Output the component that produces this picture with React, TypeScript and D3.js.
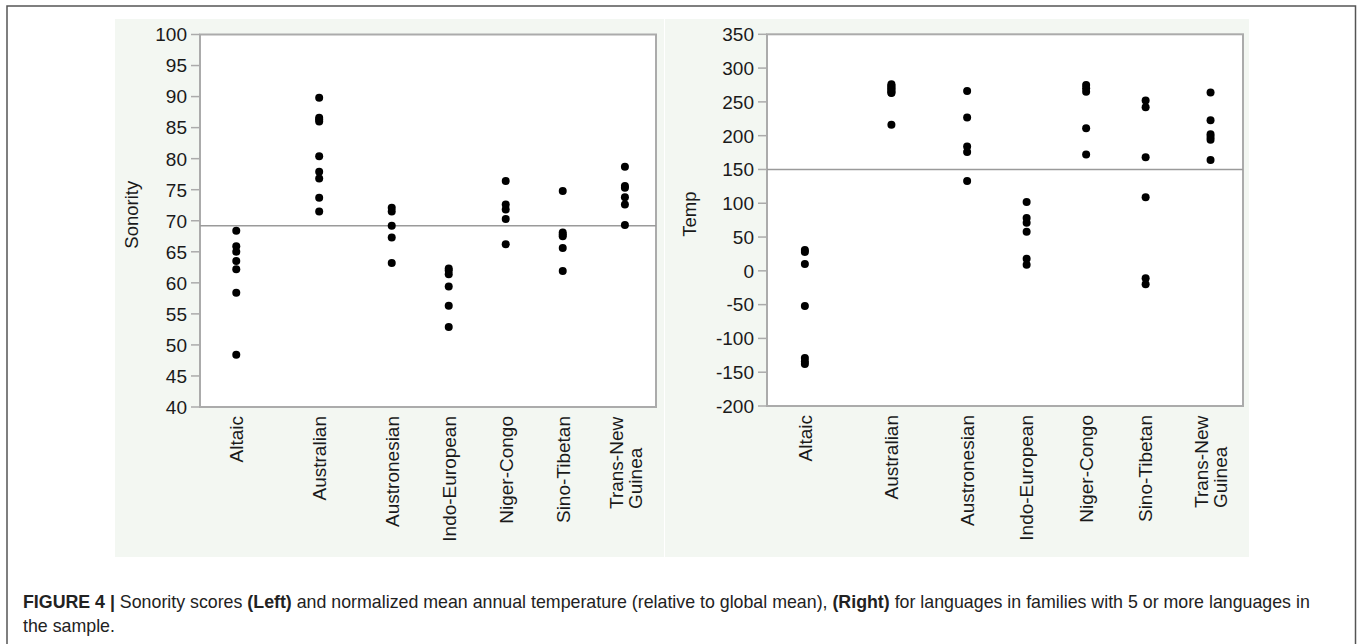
import React from 'react'
import * as d3 from 'd3'

const families = [
  'Altaic',
  'Australian',
  'Austronesian',
  'Indo-European',
  'Niger-Congo',
  'Sino-Tibetan',
  'Trans-New Guinea',
]

// sonority scores per family (left panel)
const altaicSonority = [68.4, 65.9, 65.0, 63.5, 62.2, 58.4, 48.4]
const australianSonority = [89.8, 86.6, 86.3, 86.0, 80.4, 77.9, 76.8, 73.7, 71.5]
const austronesianSonority = [72.1, 71.5, 69.2, 67.3, 63.2]
const indoEuropeanSonority = [62.3, 62.0, 61.4, 59.4, 56.3, 52.9]
const nigerCongoSonority = [76.4, 72.6, 71.8, 70.3, 66.2]
const sinoTibetanSonority = [74.8, 68.1, 67.8, 67.5, 65.6, 61.9]
const tngSonority = [78.7, 75.6, 75.3, 73.8, 72.6, 69.3]

// normalized temperature per family (right panel)
const altaicTemp = [31, 28, 10, -52, -129, -134, -138]
const australianTemp = [276, 274, 272, 270, 268, 266, 264, 263, 216]
const austronesianTemp = [266, 227, 184, 176, 133]
const indoEuropeanTemp = [102, 78, 71, 58, 18, 9]
const nigerCongoTemp = [275, 270, 265, 211, 172]
const sinoTibetanTemp = [252, 242, 168, 109, -11, -20]
const tngTemp = [264, 223, 202, 198, 194, 164]

const sonorityTicks = [40, 45, 50, 55, 60, 65, 70, 75, 80, 85, 90, 95, 100]
const tempTicks = [-200, -150, -100, -50, 0, 50, 100, 150, 200, 250, 300, 350]

const sonorityMean = 69.2
const tempMean = 150

const sonorityByFamily = [
  altaicSonority,
  australianSonority,
  austronesianSonority,
  indoEuropeanSonority,
  nigerCongoSonority,
  sinoTibetanSonority,
  tngSonority,
]
const tempByFamily = [
  altaicTemp,
  australianTemp,
  austronesianTemp,
  indoEuropeanTemp,
  nigerCongoTemp,
  sinoTibetanTemp,
  tngTemp,
]

const font = '"Liberation Sans", Arial, Helvetica, sans-serif'
const frameColor = '#ababab'
const panelFill = '#f3f7f2'
const axisText = { fontFamily: font, fontSize: '19px', fill: '#1a1a1a' }

function Panel({ frame, domain, ticks, groups, mean, title, titleX }) {
  const { left, right, top, bottom } = frame

  const y = d3.scaleLinear().domain(domain).range([bottom, top])

  // JMP style: each family gets a band as wide as its number of languages
  const counts = groups.map((g) => g.length)
  const total = d3.sum(counts)
  const x = d3.scaleLinear().domain([0, total]).range([left, right])
  const starts = d3.cumsum([0, ...counts]).slice(0, counts.length)
  const centers = starts.map((s, i) => x(s + counts[i] / 2))
  const boundaries = starts.slice(1).map((s) => x(s))

  const labelTop = bottom + 9

  return (
    <g>
      <rect
        x={left}
        y={top}
        width={right - left}
        height={bottom - top}
        fill="#ffffff"
        stroke={frameColor}
        strokeWidth={2}
      />
      <line x1={left} x2={right} y1={y(mean)} y2={y(mean)} stroke="#9a9a9a" strokeWidth={1.5} />

      {ticks.map((t) => (
        <g key={'tick-' + t}>
          <line x1={left - 9} x2={left} y1={y(t)} y2={y(t)} stroke={frameColor} strokeWidth={1.5} />
          <text x={left - 13} y={y(t)} dy="0.36em" textAnchor="end" style={axisText}>
            {t}
          </text>
        </g>
      ))}

      {boundaries.map((b, i) => (
        <line
          key={'xtick-' + i}
          x1={b}
          x2={b}
          y1={bottom}
          y2={bottom + 8}
          stroke={frameColor}
          strokeWidth={1.5}
        />
      ))}

      {groups.map((g, i) =>
        g.map((v, j) => (
          <circle key={'dot-' + i + '-' + j} cx={centers[i]} cy={y(v)} r={4} fill="#000" />
        ))
      )}

      {families.map((f, i) => {
        const lines = f === 'Trans-New Guinea' ? ['Trans-New', 'Guinea'] : [f]
        if (lines.length === 1) {
          return (
            <text
              key={'lab-' + f}
              transform={`translate(${centers[i]},${labelTop}) rotate(-90)`}
              dy="0.36em"
              textAnchor="end"
              style={axisText}
            >
              {f}
            </text>
          )
        }
        // wrapped label, lines share their start (bottom) position
        const startY = labelTop + 93
        return (
          <g key={'lab-' + f}>
            {lines.map((l, k) => (
              <text
                key={l}
                transform={`translate(${centers[i] - 9 + k * 19},${startY}) rotate(-90)`}
                dy="0.36em"
                textAnchor="start"
                style={axisText}
              >
                {l}
              </text>
            ))}
          </g>
        )
      })}

      <text
        transform={`translate(${titleX},${(top + bottom) / 2 - 6}) rotate(-90)`}
        dy="0.36em"
        textAnchor="middle"
        style={{ ...axisText, fontSize: '18.5px' }}
      >
        {title}
      </text>
    </g>
  )
}

export default function App() {
  const width = 1358
  const height = 644

  return (
    <svg
      width={width}
      height={height}
      style={{ position: 'absolute', left: 0, top: 0, background: '#ffffff' }}
    >
      <rect x={7} y={6} width={1348.5} height={700} fill="none" stroke="#555" strokeWidth={1.5} />

      <rect x={115} y={19} width={549} height={538} fill={panelFill} />
      <rect x={665} y={19} width={584} height={538} fill={panelFill} />

      <Panel
        frame={{ left: 200, right: 656, top: 34.5, bottom: 407 }}
        domain={[40, 100]}
        ticks={sonorityTicks}
        groups={sonorityByFamily}
        mean={sonorityMean}
        title="Sonority"
        titleX={131}
      />
      <Panel
        frame={{ left: 767, right: 1243, top: 34.3, bottom: 406 }}
        domain={[-200, 350]}
        ticks={tempTicks}
        groups={tempByFamily}
        mean={tempMean}
        title="Temp"
        titleX={689}
      />

      <text x={23} y={608} style={{ fontFamily: font, fontSize: '17.8px', fill: '#222' }}>
        <tspan fontWeight="bold">FIGURE 4 | </tspan>
        <tspan>Sonority scores </tspan>
        <tspan fontWeight="bold">(Left)</tspan>
        <tspan> and normalized mean annual temperature (relative to global mean), </tspan>
        <tspan fontWeight="bold">(Right)</tspan>
        <tspan> for languages in families with 5 or more languages in</tspan>
      </text>
      <text x={23} y={632} style={{ fontFamily: font, fontSize: '17.8px', fill: '#222' }}>
        the sample.
      </text>
    </svg>
  )
}
